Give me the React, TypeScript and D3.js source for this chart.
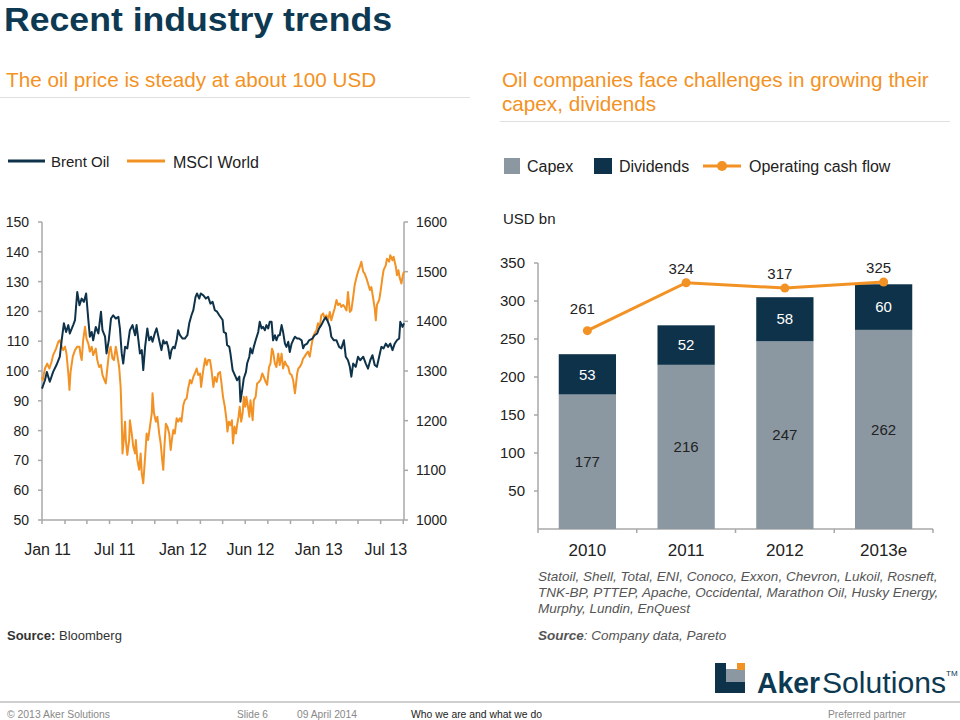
import React from 'react';
import * as d3 from 'd3';

// ---------- Left chart data ----------
// [days since start date, value]
const START = new Date(2010, 11, 17);
const SPAN_DAYS = 976;

const BRENT: [number, number][] = [
  [0,94.1],[8,96.9],[13,99.7],[21,96.4],[30,99.7],[39,102.0],[48,104.8],[53,110.3],[59,116.0],[65,113.1],[71,115.4],[75,112.6],[84,115.4],[89,117.1],[95,126.5],[101,122.1],[107,124.3],[113,123.2],[119,126.0],[125,117.1],[129,111.5],[134,113.1],[138,110.3],[145,114.8],[152,112.6],[159,119.9],[163,113.7],[170,111.5],[174,105.9],[180,110.3],[186,117.6],[192,118.7],[199,117.6],[206,118.2],[210,114.3],[215,105.9],[219,102.5],[224,108.1],[230,107.6],
  [237,113.7],[244,115.4],[251,112.0],[255,115.4],[260,110.3],[264,105.9],[269,107.0],[273,100.3],[278,108.1],[284,114.3],[289,110.3],[294,111.5],[298,109.8],[304,112.6],[309,114.3],[316,110.3],[322,107.0],[327,110.3],[331,109.2],[336,109.8],[340,108.1],[345,104.2],[349,107.0],[354,108.1],[358,107.6],[363,110.3],[367,113.7],[372,112.0],[379,110.9],[385,110.9],[392,112.0],[397,116.0],[403,118.7],[408,120.4],[414,124.9],[418,126.0],[424,124.3],[428,126.0],[435,125.4],[442,124.3],[448,124.9],[454,122.6],[460,123.2],[466,120.4],[472,119.9],[478,118.7],
  [487,117.1],[490,113.1],[496,112.6],[499,108.7],[505,108.1],[508,105.9],[514,100.3],[520,98.6],[526,96.9],[532,98.1],[535,89.7],[541,94.7],[544,97.5],[550,99.7],[553,102.5],[559,104.8],[562,107.6],[567,105.9],[571,108.1],[576,110.3],[583,113.1],[587,116.5],[592,114.3],[596,114.8],[601,113.7],[605,115.4],[610,114.3],[614,116.5],[619,116.5],[623,110.3],[628,112.0],[632,110.3],[637,112.0],[641,112.0],[646,115.4],[650,113.1],[655,109.2],[659,108.1],[664,109.8],[668,106.4],[673,109.2],[677,110.3],[682,111.5],[688,110.9],[693,110.9],[700,110.3],[704,107.6],[708,108.7],[715,109.2],[720,110.3],
  [729,110.9],[735,112.0],[742,112.6],[747,114.3],[753,115.4],[760,117.1],[765,118.0],[771,116.5],[776,114.8],[780,111.5],[787,110.3],[794,110.3],[801,108.1],[807,107.6],[814,110.3],[819,104.8],[825,103.6],[830,101.4],[834,98.1],[839,102.5],[846,101.4],[852,104.8],[858,103.6],[866,104.8],[873,102.5],[879,100.8],[885,103.6],[891,105.3],[897,102.0],[903,101.4],[909,104.8],[915,108.1],[921,107.6],[927,109.2],[933,108.1],[939,109.2],[945,107.0],[951,109.2],[957,110.3],[963,110.9],[966,116.5],[972,114.8],[976,116.0]
];

const MSCI: [number, number][] = [
  [0,1288],[2,1282],[8,1305],[14,1315],[20,1305],[26,1319],[30,1332],[38,1345],[44,1359],[48,1362],[53,1349],[57,1342],[62,1349],[66,1335],[71,1295],[74,1262],[77,1298],[83,1329],[89,1342],[95,1349],[101,1349],[104,1332],[107,1322],[111,1362],[116,1389],[120,1365],[125,1355],[129,1339],[134,1349],[138,1332],[145,1345],[149,1322],[154,1308],[159,1312],[163,1292],[168,1282],[172,1275],[177,1312],[181,1339],[185,1349],[190,1325],[194,1322],[199,1349],[203,1332],[208,1308],[212,1268],[215,1201],[217,1134],[221,1168],[224,1198],[226,1161],[230,1131],[235,1161],
  [237,1201],[242,1174],[246,1148],[251,1134],[253,1161],[257,1121],[262,1101],[266,1134],[269,1094],[273,1074],[278,1127],[282,1174],[286,1161],[291,1188],[296,1215],[298,1255],[302,1215],[307,1198],[311,1208],[316,1174],[320,1154],[324,1121],[327,1101],[330,1148],[334,1194],[338,1188],[343,1174],[347,1141],[350,1161],[354,1181],[358,1174],[363,1205],[367,1198],[372,1205],[376,1198],[381,1231],[385,1241],[390,1245],[394,1265],[399,1282],[403,1275],[408,1288],[412,1295],[417,1305],[421,1292],[426,1295],[429,1268],[433,1292],[436,1308],[440,1325],[444,1312],[448,1322],[453,1322],[457,1302],[462,1268],[466,1288],[471,1278],[475,1295],
  [480,1298],[484,1275],[488,1248],[493,1228],[498,1198],[500,1178],[504,1198],[508,1191],[512,1201],[515,1154],[519,1188],[523,1174],[526,1191],[530,1208],[533,1228],[537,1198],[541,1215],[544,1248],[548,1228],[551,1248],[556,1225],[559,1208],[562,1241],[568,1201],[571,1241],[576,1248],[580,1275],[585,1278],[589,1282],[594,1295],[598,1288],[603,1278],[607,1272],[612,1308],[616,1315],[620,1345],[623,1339],[628,1315],[632,1308],[637,1335],[641,1312],[646,1335],[650,1305],[655,1319],[659,1312],[664,1308],[668,1295],[673,1292],[677,1282],[682,1255],[684,1268],[688,1295],[691,1305],[695,1308],[700,1315],[704,1325],[708,1329],[713,1335],[717,1339],[722,1329],
  [726,1349],[731,1369],[735,1376],[740,1382],[744,1396],[749,1389],[753,1412],[758,1416],[762,1406],[767,1412],[771,1402],[776,1419],[780,1402],[785,1416],[789,1426],[794,1443],[798,1433],[803,1436],[807,1429],[812,1433],[816,1429],[821,1422],[825,1459],[830,1419],[834,1422],[839,1449],[843,1473],[848,1489],[852,1500],[857,1510],[861,1520],[866,1500],[870,1496],[875,1486],[879,1476],[884,1463],[888,1469],[893,1446],[897,1426],[900,1402],[903,1433],[909,1443],[912,1456],[918,1489],[921,1503],[927,1513],[930,1526],[936,1520],[939,1533],[945,1523],[948,1530],[954,1510],[957,1493],[961,1503],[964,1489],[969,1476],[973,1493],[976,1500]
];

const X_LABELS = ['Jan 11', 'Jul 11', 'Jan 12', 'Jun 12', 'Jan 13', 'Jul 13'];
const X_LABEL_DATES = ['2011-01-01', '2011-07-01', '2012-01-01', '2012-07-01', '2013-01-01', '2013-07-01'];
const LEFT_TICKS = [50, 60, 70, 80, 90, 100, 110, 120, 130, 140, 150];
const RIGHT_TICKS = [1000, 1100, 1200, 1300, 1400, 1500, 1600];

// ---------- Right chart data ----------
const YEARS = ['2010', '2011', '2012', '2013e'];
const CAPEX = [177, 216, 247, 262];
const DIVIDENDS = [53, 52, 58, 60];
const OCF = [261, 324, 317, 325];
const BAR_TICKS = [50, 100, 150, 200, 250, 300, 350];

const NAVY = '#0e3249';
const ORANGE = '#f39224';
const BARGRAY = '#8b98a2';
const AXIS = '#a8a8a8';
const TEXT = '#222222';
const TITLE = '#0d3a52';
const FONT = 'Liberation Sans, Arial, sans-serif';

export default function App() {
  // left chart scales
  const x = d3.scaleTime()
    .domain([START, d3.timeDay.offset(START, SPAN_DAYS)])
    .range([42, 404]);
  const yL = d3.scaleLinear().domain([50, 150]).range([520, 222]);
  const yR = d3.scaleLinear().domain([1000, 1600]).range([520, 222]);
  const xTicks = d3.range(17).map(i => d3.timeMonth.offset(START, 2 * i));

  const brentLine = d3.line<[number, number]>()
    .x(d => x(d3.timeDay.offset(START, d[0])))
    .y(d => yL(d[1]));
  const msciLine = d3.line<[number, number]>()
    .x(d => x(d3.timeDay.offset(START, d[0])))
    .y(d => yR(d[1]));

  // right chart scales
  const xb = d3.scaleBand<string>().domain(YEARS).range([538, 933]).paddingInner(0.42).paddingOuter(0.21);
  const yb = d3.scaleLinear().domain([0, 350]).range([529, 263]);
  const ocfPts: [number, number][] = OCF.map((v, i) => [xb(YEARS[i])! + xb.bandwidth() / 2, yb(v)]);
  const ocfLine = d3.line<[number, number]>().x(d => d[0]).y(d => d[1]);
  const bandEdges = d3.range(YEARS.length + 1).map(i => 538 + i * xb.step());

  return (
    <svg width={960} height={720} style={{ position: 'absolute', left: 0, top: 0, background: '#fff' }} fontFamily={FONT}>
      <rect x={0} y={0} width={960} height={720} fill="#fff" />
      {/* Title */}
      <text x={4} y={31} fontSize={34} fontWeight="bold" fill={TITLE} textLength={388} lengthAdjust="spacingAndGlyphs">Recent industry trends</text>

      {/* Subtitles */}
      <text x={6} y={87} fontSize={20.7} fill={ORANGE}>The oil price is steady at about 100 USD</text>
      <line x1={0} x2={470} y1={97.5} y2={97.5} stroke="#e0e0e0" strokeWidth={1} />
      <text x={502} y={87} fontSize={20.7} fill={ORANGE}>Oil companies face challenges in growing their</text>
      <text x={502} y={111} fontSize={20.7} fill={ORANGE}>capex, dividends</text>
      <line x1={500} x2={950} y1={121.5} y2={121.5} stroke="#e0e0e0" strokeWidth={1} />

      {/* Left legend */}
      <line x1={8} x2={45} y1={161} y2={161} stroke={NAVY} strokeWidth={3} />
      <text x={51} y={167} fontSize={15} fill={TEXT}>Brent Oil</text>
      <line x1={127} x2={165} y1={161} y2={161} stroke={ORANGE} strokeWidth={3} />
      <text x={173} y={168} fontSize={16} fill={TEXT}>MSCI World</text>

      {/* Right legend */}
      <rect x={504} y={158} width={16} height={16} fill={BARGRAY} />
      <text x={527} y={172} fontSize={16} fill={TEXT}>Capex</text>
      <rect x={594} y={158} width={18} height={16} fill={NAVY} />
      <text x={619} y={172} fontSize={16} fill={TEXT}>Dividends</text>
      <line x1={703} x2={741} y1={166} y2={166} stroke={ORANGE} strokeWidth={3} />
      <circle cx={722} cy={166} r={5} fill={ORANGE} />
      <text x={749} y={172} fontSize={16} fill={TEXT}>Operating cash flow</text>

      {/* Left chart axes */}
      <line x1={42} x2={42} y1={222} y2={520} stroke={AXIS} strokeWidth={1.5} />
      <line x1={404} x2={404} y1={222} y2={520} stroke={AXIS} strokeWidth={1.5} />
      <line x1={42} x2={404} y1={520} y2={520} stroke={AXIS} strokeWidth={1.5} />
      {LEFT_TICKS.map(t => (
        <g key={'l' + t}>
          <line x1={38} x2={42} y1={yL(t)} y2={yL(t)} stroke={AXIS} strokeWidth={1.5} />
          <text x={29} y={yL(t)} dy="0.35em" textAnchor="end" fontSize={14} fill={TEXT}>{t}</text>
        </g>
      ))}
      {RIGHT_TICKS.map(t => (
        <g key={'r' + t}>
          <line x1={404} x2={408} y1={yR(t)} y2={yR(t)} stroke={AXIS} strokeWidth={1.5} />
          <text x={416} y={yR(t)} dy="0.35em" textAnchor="start" fontSize={14} fill={TEXT}>{t}</text>
        </g>
      ))}
      {xTicks.map((d, i) => (
        <line key={'xt' + i} x1={x(d)} x2={x(d)} y1={520} y2={524} stroke={AXIS} strokeWidth={1.5} />
      ))}
      {X_LABELS.map((lab, i) => (
        <text key={lab} x={x(new Date(X_LABEL_DATES[i] + 'T00:00:00'))} y={555} textAnchor="middle" fontSize={16} fill={TEXT}>{lab}</text>
      ))}
      <path d={msciLine(MSCI) || ''} fill="none" stroke={ORANGE} strokeWidth={2} strokeLinejoin="round" />
      <path d={brentLine(BRENT) || ''} fill="none" stroke={NAVY} strokeWidth={2} strokeLinejoin="round" />

      <text x={7} y={640} fontSize={13} fill="#333"><tspan fontWeight="bold">Source:</tspan> Bloomberg</text>

      {/* Right chart */}
      <text x={503} y={224} fontSize={15} fill={TEXT}>USD bn</text>
      <line x1={538} x2={538} y1={263} y2={529} stroke={AXIS} strokeWidth={1.5} />
      <line x1={538} x2={933} y1={529} y2={529} stroke={AXIS} strokeWidth={1.5} />
      {BAR_TICKS.map(t => (
        <g key={'b' + t}>
          <line x1={534} x2={538} y1={yb(t)} y2={yb(t)} stroke={AXIS} strokeWidth={1.5} />
          <text x={525} y={yb(t)} dy="0.35em" textAnchor="end" fontSize={15} fill={TEXT}>{t}</text>
        </g>
      ))}
      {bandEdges.map((e, i) => (
        <line key={'be' + i} x1={e} x2={e} y1={529} y2={533} stroke={AXIS} strokeWidth={1.5} />
      ))}
      {YEARS.map((yr, i) => {
        const bx = xb(yr)!;
        const bw = xb.bandwidth();
        const cx = bx + bw / 2;
        const capTop = yb(CAPEX[i]);
        const divTop = yb(CAPEX[i] + DIVIDENDS[i]);
        return (
          <g key={yr}>
            <rect x={bx} y={capTop} width={bw} height={yb(0) - capTop} fill={BARGRAY} />
            <rect x={bx} y={divTop} width={bw} height={capTop - divTop} fill={NAVY} />
            <text x={cx} y={(capTop + yb(0)) / 2} dy="0.35em" textAnchor="middle" fontSize={15} fill={TEXT}>{CAPEX[i]}</text>
            <text x={cx} y={(divTop + capTop) / 2} dy="0.35em" textAnchor="middle" fontSize={15} fill="#fff">{DIVIDENDS[i]}</text>
            <text x={cx} y={556} textAnchor="middle" fontSize={17} fill={TEXT}>{yr}</text>
          </g>
        );
      })}
      <path d={ocfLine(ocfPts) || ''} fill="none" stroke={ORANGE} strokeWidth={3} />
      {ocfPts.map((p, i) => (
        <g key={'o' + i}>
          <circle cx={p[0]} cy={p[1]} r={4.5} fill={ORANGE} />
          <text x={p[0] - 5} y={p[1] - (i === 0 ? 22 : 14)} dy="0.35em" textAnchor="middle" fontSize={15} fill={TEXT}>{OCF[i]}</text>
        </g>
      ))}

      <g fontSize={13.5} fontStyle="italic" fill="#555">
        <text x={538} y={581}>Statoil, Shell, Total, ENI, Conoco, Exxon, Chevron, Lukoil, Rosneft,</text>
        <text x={538} y={597}>TNK-BP, PTTEP, Apache, Occidental, Marathon Oil, Husky Energy,</text>
        <text x={538} y={613}>Murphy, Lundin, EnQuest</text>
        <text x={538} y={640}><tspan fontWeight="bold">Source</tspan>: Company data, Pareto</text>
      </g>

      {/* Logo */}
      <g>
        <rect x={726} y={669} width={19} height={13} fill={BARGRAY} />
        <rect x={737} y={663} width={8} height={7} fill={ORANGE} />
        <rect x={715} y={663} width={11} height={30} fill={NAVY} />
        <rect x={715} y={682} width={30} height={11} fill={NAVY} />
        <text x={757} y={693} fontSize={30} fontWeight="bold" fill={TITLE} textLength={63} lengthAdjust="spacingAndGlyphs">Aker</text>
        <text x={822} y={693} fontSize={30} fill={TITLE} textLength={124} lengthAdjust="spacingAndGlyphs">Solutions</text>
        <text x={946} y={676} fontSize={8} fill={TITLE}>TM</text>
      </g>

      {/* Footer */}
      <line x1={0} x2={960} y1={702} y2={702} stroke="#cfcfcf" strokeWidth={2} />
      <g fontSize={11.5} fill="#888">
        <text x={7} y={718} textLength={103} lengthAdjust="spacingAndGlyphs">© 2013 Aker Solutions</text>
        <text x={237} y={718} textLength={31} lengthAdjust="spacingAndGlyphs">Slide 6</text>
        <text x={297} y={718} textLength={60} lengthAdjust="spacingAndGlyphs">09 April 2014</text>
        <text x={411} y={718} fill="#222" textLength={131} lengthAdjust="spacingAndGlyphs">Who we are and what we do</text>
        <text x={828} y={718} textLength={78} lengthAdjust="spacingAndGlyphs">Preferred partner</text>
      </g>
    </svg>
  );
}
